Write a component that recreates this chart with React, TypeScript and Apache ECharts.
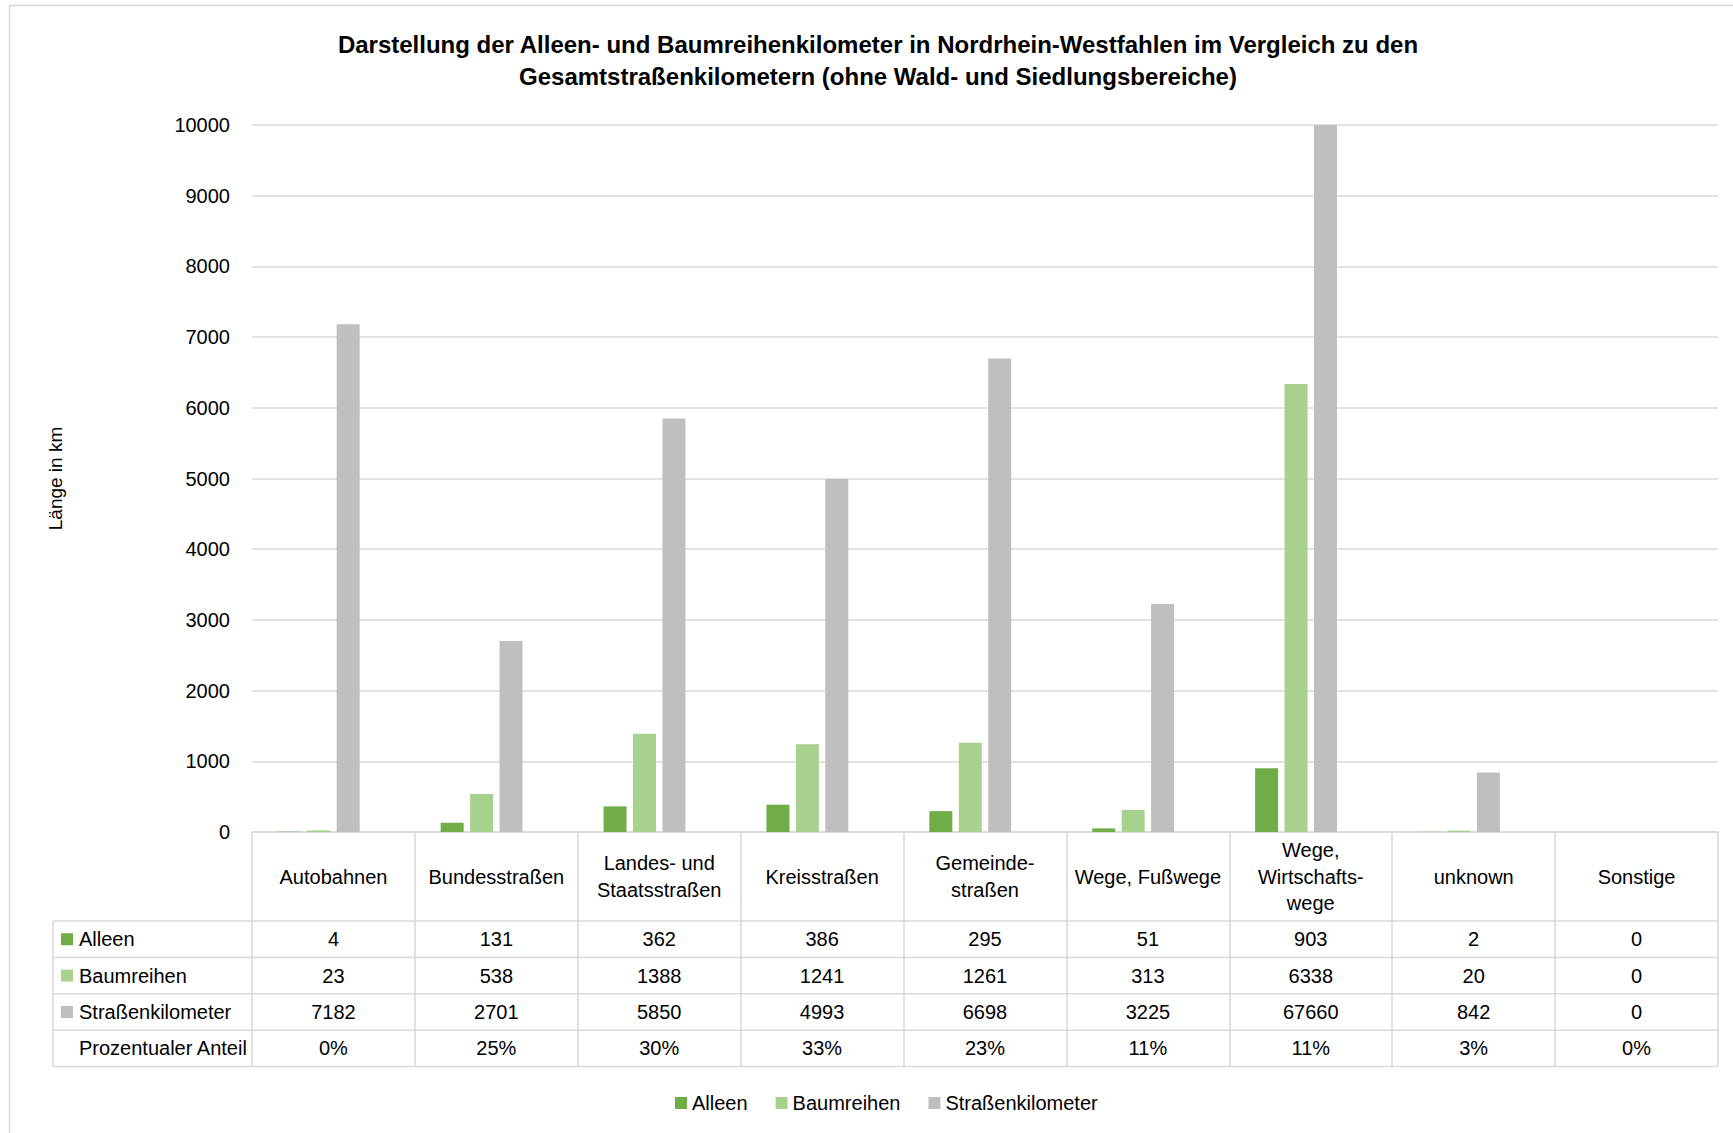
import React, { useEffect, useRef } from "react";
import * as echarts from "echarts";

const categories = [
  "Autobahnen",
  "Bundesstraßen",
  "Landes- und\nStaatsstraßen",
  "Kreisstraßen",
  "Gemeinde-\nstraßen",
  "Wege, Fußwege",
  "Wege,\nWirtschafts-\nwege",
  "unknown",
  "Sonstige",
];
const alleen = [4, 131, 362, 386, 295, 51, 903, 2, 0];
const baumreihen = [23, 538, 1388, 1241, 1261, 313, 6338, 20, 0];
const strassenkm = [7182, 2701, 5850, 4993, 6698, 3225, 67660, 842, 0];
const anteil = [0, 25, 30, 33, 23, 11, 11, 3, 0];
const seriesNames = ["Alleen", "Baumreihen", "Straßenkilometer"];
const rowNames = ["Alleen", "Baumreihen", "Straßenkilometer", "Prozentualer Anteil"];
const colors = ["#70AD47", "#A9D18E", "#BFBFBF"];
const yMin = 0;
const yMax = 10000;
const yInterval = 1000;
const titleLines = [
  "Darstellung der Alleen- und Baumreihenkilometer in Nordrhein-Westfahlen im Vergleich zu den",
  "Gesamtstraßenkilometern (ohne Wald- und Siedlungsbereiche)",
];

const FONT = "'Liberation Sans', Arial, sans-serif";
const FS = 20;
const LINE = "#D9D9D9";

// layout
const GL = 252;
const GR = 1718;
const GT = 125;
const GB = 832;
const HEADER_B = 921;
const ROW_H = 36.4;
const TABLE_L = 53;

export default function App() {
  const ref = useRef<HTMLDivElement>(null);
  useEffect(() => {
    if (!ref.current) return;
    const chart = echarts.init(ref.current, undefined, { renderer: "svg" });
    const tableB = HEADER_B + ROW_H * 4;
    const rowCenters = [0, 1, 2, 3].map((i) => HEADER_B + ROW_H * (i + 0.5));
    const rowValues = [
      alleen.map(String),
      baumreihen.map(String),
      strassenkm.map(String),
      anteil.map((v) => v + "%"),
    ];

    const graphics: any[] = [
      {
        type: "rect",
        shape: { x: 9.5, y: 5.5, width: 1760, height: 1160 },
        style: { fill: "none", stroke: "#D9D9D9", lineWidth: 1.5 },
        silent: true,
      },
      {
        type: "text",
        x: 878,
        y: 60,
        style: {
          text: titleLines.join("\n"),
          align: "center",
          verticalAlign: "middle",
          font: `bold 24px ${FONT}`,
          lineHeight: 32,
          fill: "#000",
        },
      },
      {
        type: "line",
        shape: { x1: TABLE_L, y1: HEADER_B, x2: TABLE_L, y2: tableB },
        style: { stroke: LINE, lineWidth: 1.5 },
      },
    ];
    for (let i = 0; i <= 4; i++) {
      const y = HEADER_B + ROW_H * i;
      graphics.push({
        type: "line",
        shape: { x1: TABLE_L, y1: y, x2: GR, y2: y },
        style: { stroke: LINE, lineWidth: 1.5 },
      });
    }
    rowNames.forEach((name, i) => {
      if (i < 3) {
        graphics.push({
          type: "rect",
          shape: { x: 61, y: rowCenters[i] - 6, width: 12, height: 12 },
          style: { fill: colors[i] },
        });
      }
      graphics.push({
        type: "text",
        x: 79,
        y: rowCenters[i],
        style: {
          text: name,
          align: "left",
          verticalAlign: "middle",
          font: `${FS}px ${FONT}`,
          fill: "#000",
        },
      });
    });

    const rowAxes = rowValues.map((vals, i) => ({
      type: "category",
      gridIndex: 0,
      position: "bottom",
      data: vals,
      axisLine: { show: false },
      axisTick: { show: false },
      splitLine: { show: false },
      axisLabel: {
        interval: 0,
        margin: rowCenters[i] - GB,
        verticalAlign: "middle",
        fontSize: FS,
        fontFamily: FONT,
        color: "#000",
      },
    }));

    chart.setOption({
      animation: false,
      textStyle: { fontFamily: FONT },
      grid: { left: GL, top: GT, width: GR - GL, height: GB - GT, containLabel: false },
      legend: {
        data: seriesNames,
        left: 670,
        top: 1088,
        icon: "rect",
        itemWidth: 12,
        itemHeight: 12,
        itemGap: 28,
        textStyle: { fontSize: FS, fontFamily: FONT, color: "#000" },
      },
      xAxis: [
        {
          type: "category",
          data: categories,
          position: "bottom",
          axisLine: { show: true, lineStyle: { color: LINE, width: 1.5 } },
          axisTick: {
            show: true,
            interval: 0,
            length: tableB - GB,
            lineStyle: { color: LINE, width: 1.5 },
          },
          axisLabel: {
            interval: 0,
            margin: (HEADER_B - GB) / 2,
            verticalAlign: "middle",
            fontSize: FS,
            lineHeight: 26.5,
            fontFamily: FONT,
            color: "#000",
          },
        },
        ...rowAxes,
      ],
      yAxis: {
        type: "value",
        min: yMin,
        max: yMax,
        interval: yInterval,
        name: "Länge in km",
        nameLocation: "middle",
        nameRotate: 90,
        nameGap: 187,
        nameTextStyle: { fontSize: FS - 1, fontFamily: FONT, color: "#000" },
        axisLine: { show: false },
        axisTick: { show: false },
        axisLabel: {
          fontSize: FS,
          fontFamily: FONT,
          color: "#000",
          margin: 22,
          formatter: (v: number) => String(v),
        },
        splitLine: { lineStyle: { color: LINE, width: 1.5 } },
      },
      series: [
        ...seriesNames.map((name, i) => ({
          name,
          type: "bar",
          data: [alleen, baumreihen, strassenkm][i],
          barWidth: 23,
          barGap: "28%",
          itemStyle: { color: colors[i] },
          clip: true,
        })),
        {
          name: "Prozentualer Anteil",
          type: "bar",
          data: anteil.map((v) => v / 100),
          barWidth: 23,
          barGap: "28%",
          itemStyle: { color: "rgba(0,0,0,0)" },
        },
      ],
      graphic: graphics,
    });
    return () => chart.dispose();
  }, []);
  return (
    <div
      ref={ref}
      style={{ position: "fixed", left: 0, top: 0, width: 1733, height: 1133, background: "#fff" }}
    />
  );
}
